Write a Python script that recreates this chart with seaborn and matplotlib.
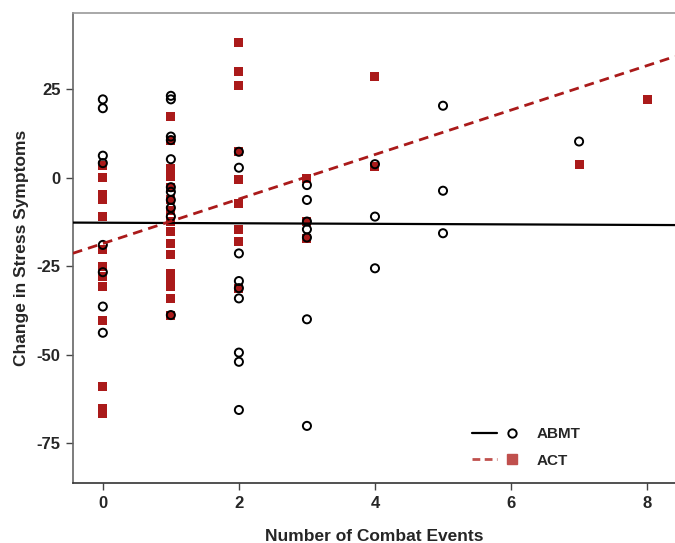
import numpy as np
import pandas as pd
import matplotlib
matplotlib.use("Agg")
import matplotlib.pyplot as plt
import seaborn as sns
from matplotlib.lines import Line2D
from matplotlib.legend_handler import HandlerTuple

# ---- data ----
abmt_x = [0]*8 + [1]*11 + [2]*9 + [3]*7 + [4]*3 + [5]*3 + [7]
abmt_y = [22.1, 19.6, 6.2, 4.1, -19.0, -26.7, -36.4, -43.8,
          23.1, 22.1, 11.6, 10.6, 5.2, -2.7, -4.0, -6.3, -8.5, -11.0, -38.8,
          7.3, 2.8, -21.4, -29.2, -31.2, -34.1, -49.4, -52.0, -65.6,
          -2.1, -6.3, -12.4, -14.6, -16.9, -40.0, -70.1,
          3.8, -11.0, -25.6,
          20.3, -3.7, -15.7,
          10.2]
act_x = [0]*13 + [1]*16 + [2]*9 + [3]*3 + [4]*2 + [7] + [8]
act_y = [3.4, 0.0, -4.9, -6.3, -11.0, -20.4, -25.1, -28.0, -30.8, -40.2, -59.0, -65.1, -66.5,
         17.2, 10.6, 2.6, 0.2, -2.7, -6.3, -9.3, -12.4, -15.3, -18.5, -21.8, -27.0, -28.9, -30.8, -34.1, -38.8,
         38.1, 29.9, 25.9, 7.3, -0.6, -7.2, -14.6, -18.1, -31.2,
         -0.2, -12.4, -17.2,
         28.5, 3.1,
         3.6,
         22.1]
groups = ["ABMT", "ACT"]
# fitted regression lines (intercept, slope)
fit_intercepts = [-12.73, -18.6]
fit_slopes = [-0.079, 6.28]
x_ticks = [0, 2, 4, 6, 8]
y_ticks = [-75, -50, -25, 0, 25]

df = pd.DataFrame({
    "events": abmt_x + act_x,
    "change": abmt_y + act_y,
    "group": ["ABMT"] * len(abmt_x) + ["ACT"] * len(act_x),
})

RED = "#aa1a1a"
sns.set_style("white")
plt.rcParams["font.family"] = ["Liberation Sans", "DejaVu Sans"]

fig = plt.figure(figsize=(6.75, 5.43), dpi=100)
ax = fig.add_axes([0.108, 0.110, 0.892, 0.8655])
ax.set_xlim(-0.44, 8.41)
ax.set_ylim(-86.3, 46.4)

act = df[df.group == "ACT"]
abmt = df[df.group == "ABMT"]

sns.scatterplot(data=act, x="events", y="change", marker="s", s=42,
                color=RED, edgecolor="none", linewidth=0, ax=ax, zorder=2)
sns.scatterplot(data=abmt, x="events", y="change", marker="o", s=34,
                facecolor="none", edgecolor="black", linewidth=1.4, ax=ax, zorder=3)

ax.axline((0, fit_intercepts[0]), slope=fit_slopes[0], color="black", lw=1.6, zorder=4)
ax.axline((0, fit_intercepts[1]), slope=fit_slopes[1], color=RED, lw=2.0,
          dashes=(3.5, 2.2), zorder=5)
ax.set_xlim(-0.44, 8.41)
ax.set_ylim(-86.3, 46.4)

ax.set_xticks(x_ticks)
ax.set_yticks(y_ticks)
ax.set_xticklabels([str(t) for t in x_ticks], fontsize=12, fontweight="bold")
ax.set_yticklabels([str(t) for t in y_ticks], fontsize=12, fontweight="bold")
ax.tick_params(axis="both", direction="out", length=5, width=1, color="#444444",
               bottom=True, left=True, pad=4)
ax.set_xlabel("Number of Combat Events", fontsize=12.5, fontweight="bold", labelpad=13)
ax.set_ylabel("Change in Stress Symptoms", fontsize=12.5, fontweight="bold", labelpad=5)

for side in ["left", "top", "bottom"]:
    ax.spines[side].set_visible(True)
    ax.spines[side].set_linewidth(1.2)
ax.spines["left"].set_color("#666666")
ax.spines["top"].set_color("#999999")
ax.spines["bottom"].set_color("#333333")
ax.spines["right"].set_visible(False)

h_abmt = (Line2D([], [], color="black", lw=1.6),
          Line2D([], [], color="black", marker="o", ls="none", markersize=6,
                 markerfacecolor="none", markeredgewidth=1.4))
h_act = (Line2D([], [], color="#c0504d", lw=2.0, dashes=(2.8, 1.6)),
         Line2D([], [], color="#c0504d", marker="s", ls="none", markersize=6.5))
leg = fig.legend([h_abmt, h_act], groups, loc="upper left",
                 bbox_to_anchor=(472 / 675, 1 - 427 / 543), frameon=False,
                 handler_map={tuple: HandlerTuple(ndivide=2, pad=0.16)},
                 handlelength=3.4, handletextpad=0.8, labelspacing=0.82,
                 borderpad=0, borderaxespad=0,
                 prop={"size": 11, "weight": "bold"})

fig.savefig("out.png", dpi=100)
